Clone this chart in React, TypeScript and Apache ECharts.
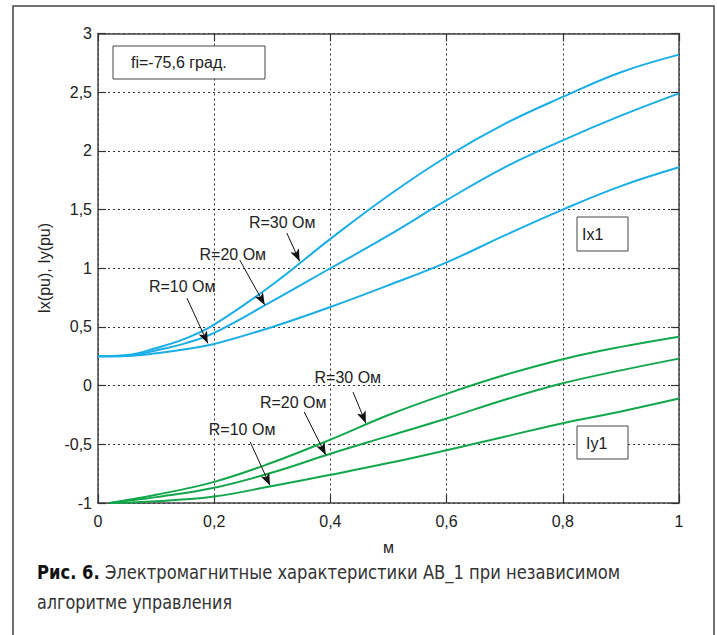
import React, { useEffect, useRef } from "react";
import * as echarts from "echarts";

const xBlue = [0, 0.05, 0.1, 0.15, 0.2, 0.3, 0.4, 0.5, 0.6, 0.7, 0.8, 0.9, 1];
const ix30 = [0.25, 0.26, 0.32, 0.4, 0.52, 0.86, 1.25, 1.62, 1.95, 2.23, 2.46, 2.67, 2.82];
const ix20 = [0.25, 0.255, 0.3, 0.36, 0.45, 0.72, 1.0, 1.28, 1.58, 1.86, 2.09, 2.3, 2.49];
const ix10 = [0.25, 0.253, 0.275, 0.31, 0.355, 0.5, 0.67, 0.855, 1.05, 1.28, 1.5, 1.7, 1.86];

const xGreen = [0.02, 0.1, 0.2, 0.3, 0.4, 0.5, 0.6, 0.7, 0.8, 0.9, 1];
const iy30 = [-1, -0.93, -0.82, -0.655, -0.46, -0.25, -0.07, 0.09, 0.225, 0.33, 0.417];
const iy20 = [-1, -0.95, -0.87, -0.74, -0.58, -0.43, -0.28, -0.12, 0.02, 0.13, 0.23];
const iy10 = [-1, -0.985, -0.945, -0.855, -0.76, -0.66, -0.55, -0.435, -0.32, -0.22, -0.11];

// annotations: label centre, arrow start, arrow tip (data coords)
const blueNotes = [
  { text: "R=30 Ом", label: [0.317, 1.392], from: [0.325, 1.3], to: [0.347, 1.06] },
  { text: "R=20 Ом", label: [0.232, 1.12], from: [0.244, 1.07], to: [0.287, 0.687] },
  { text: "R=10 Ом", label: [0.145, 0.848], from: [0.153, 0.746], to: [0.189, 0.36] },
];
const greenNotes = [
  { text: "R=30 Ом", label: [0.43, 0.065], from: [0.439, -0.055], to: [0.461, -0.32] },
  { text: "R=20 Ом", label: [0.336, -0.148], from: [0.355, -0.225], to: [0.392, -0.59] },
  { text: "R=10 Ом", label: [0.248, -0.378], from: [0.262, -0.48], to: [0.296, -0.85] },
];

const BLUE = "#1aaee6";
const GREEN = "#13a74c";
const FONT = "Liberation Sans, Arial, sans-serif";
const CAPFONT = "DejaVu Sans Condensed, Roboto, sans-serif";

const fmt = (v: number) => String(Math.round(v * 10) / 10).replace(".", ",");

const pair = (xs: number[], ys: number[]) => xs.map((x, i) => [x, ys[i]]);

export default function App() {
  const ref = useRef<HTMLDivElement>(null);
  useEffect(() => {
    const chart = echarts.init(ref.current!, undefined, { renderer: "svg" });
    const notesSeries = (notes: typeof blueNotes, id: string) => ({
      type: "line",
      id,
      data: [],
      silent: true,
      markLine: {
        silent: true,
        symbol: ["none", "arrow"],
        symbolSize: [7, 12],
        label: { show: false },
        lineStyle: { color: "#111", width: 1, type: "solid" },
        emphasis: { disabled: true },
        data: notes.map((n) => [{ coord: n.from }, { coord: n.to }]),
      },
      markPoint: {
        silent: true,
        symbol: "circle",
        symbolSize: 1,
        itemStyle: { color: "rgba(0,0,0,0)" },
        label: {
          show: true,
          position: "inside",
          formatter: "{b}",
          color: "#222",
          fontSize: 16,
          fontFamily: FONT,
        },
        data: notes.map((n) => ({ name: n.text, coord: n.label })),
      },
    });
    const lineSeries = (xs: number[], ys: number[], color: string) => ({
      type: "line",
      data: pair(xs, ys),
      smooth: 0.4,
      showSymbol: false,
      silent: true,
      lineStyle: { color, width: 2 },
    });
    const axisCommon = {
      type: "value",
      axisLine: { show: true, onZero: false, lineStyle: { color: "#444", width: 1.5 } },
      axisTick: { show: true, inside: true, length: 8, lineStyle: { color: "#333", width: 1.2 } },
    };
    chart.setOption({
      animation: false,
      backgroundColor: "#fff",
      grid: { left: 98, top: 33.5, right: 38, bottom: 132 },
      xAxis: [
        {
          ...axisCommon,
          min: 0,
          max: 1,
          interval: 0.2,
          position: "bottom",
          name: "м",
          nameLocation: "middle",
          nameGap: 36,
          nameTextStyle: { fontSize: 16, color: "#222", fontFamily: FONT },
          axisLabel: { fontSize: 16, color: "#222", fontFamily: FONT, margin: 10, formatter: fmt },
          splitLine: { show: true, lineStyle: { type: [2, 3], color: "#333", width: 1 } },
        },
        {
          ...axisCommon,
          min: 0,
          max: 1,
          interval: 0.2,
          position: "top",
          axisLabel: { show: false },
          splitLine: { show: false },
        },
      ],
      yAxis: [
        {
          ...axisCommon,
          min: -1,
          max: 3,
          interval: 0.5,
          position: "left",
          name: "Ix(pu), Iy(pu)",
          nameLocation: "middle",
          nameGap: 46,
          nameTextStyle: { fontSize: 16, color: "#222", fontFamily: FONT },
          axisLabel: { fontSize: 16, color: "#222", fontFamily: FONT, margin: 6, formatter: fmt },
          splitLine: { show: true, lineStyle: { type: [2, 3], color: "#333", width: 1 } },
        },
        {
          ...axisCommon,
          min: -1,
          max: 3,
          interval: 0.5,
          position: "right",
          axisLabel: { show: false },
          splitLine: { show: false },
        },
      ],
      series: [
        lineSeries(xBlue, ix30, BLUE),
        lineSeries(xBlue, ix20, BLUE),
        lineSeries(xBlue, ix10, BLUE),
        lineSeries(xGreen, iy30, GREEN),
        lineSeries(xGreen, iy20, GREEN),
        lineSeries(xGreen, iy10, GREEN),
        notesSeries(blueNotes, "nb"),
        notesSeries(greenNotes, "ng"),
      ],
      graphic: [
        {
          type: "rect",
          shape: { x: 13, y: 6, width: 701, height: 660 },
          style: { fill: "none", stroke: "#444", lineWidth: 1.5 },
          silent: true,
        },
        {
          type: "rect",
          shape: { x: 113, y: 46, width: 152, height: 33 },
          style: { fill: "#fff", stroke: "#444", lineWidth: 1 },
          z: 100,
        },
        {
          type: "text",
          x: 131,
          y: 62.5,
          z: 101,
          style: { text: "fi=-75,6 град.", fontSize: 16, fill: "#222", fontFamily: FONT, verticalAlign: "middle" },
        },
        {
          type: "rect",
          shape: { x: 577, y: 217, width: 51, height: 34 },
          style: { fill: "#fff", stroke: "#444", lineWidth: 1 },
          z: 100,
        },
        {
          type: "text",
          x: 582,
          y: 234,
          z: 101,
          style: { text: "Ix1", fontSize: 16, fill: "#222", fontFamily: FONT, verticalAlign: "middle" },
        },
        {
          type: "rect",
          shape: { x: 577, y: 426, width: 51, height: 33 },
          style: { fill: "#fff", stroke: "#444", lineWidth: 1 },
          z: 100,
        },
        {
          type: "text",
          x: 586,
          y: 443,
          z: 101,
          style: { text: "Iy1", fontSize: 16, fill: "#222", fontFamily: FONT, verticalAlign: "middle" },
        },
        {
          type: "text",
          x: 37,
          y: 572,
          scaleX: 0.91,
          style: {
            text: "{b|Рис. 6.} Электромагнитные характеристики АВ_1 при независимом",
            fontSize: 20,
            fill: "#333",
            fontFamily: CAPFONT,
            verticalAlign: "middle",
            rich: {
              b: {
                fontSize: 20,
                fontWeight: "bold",
                fill: "#111",
                fontFamily: CAPFONT,
              },
            },
          },
        },
        {
          type: "text",
          x: 37,
          y: 602,
          scaleX: 0.89,
          style: {
            text: "алгоритме управления",
            fontSize: 20,
            fill: "#333",
            fontFamily: CAPFONT,
            verticalAlign: "middle",
          },
        },
      ],
    });
    return () => chart.dispose();
  }, []);
  return (
    <div
      ref={ref}
      style={{ position: "fixed", left: 0, top: 0, width: 717, height: 635, background: "#fff" }}
    />
  );
}
